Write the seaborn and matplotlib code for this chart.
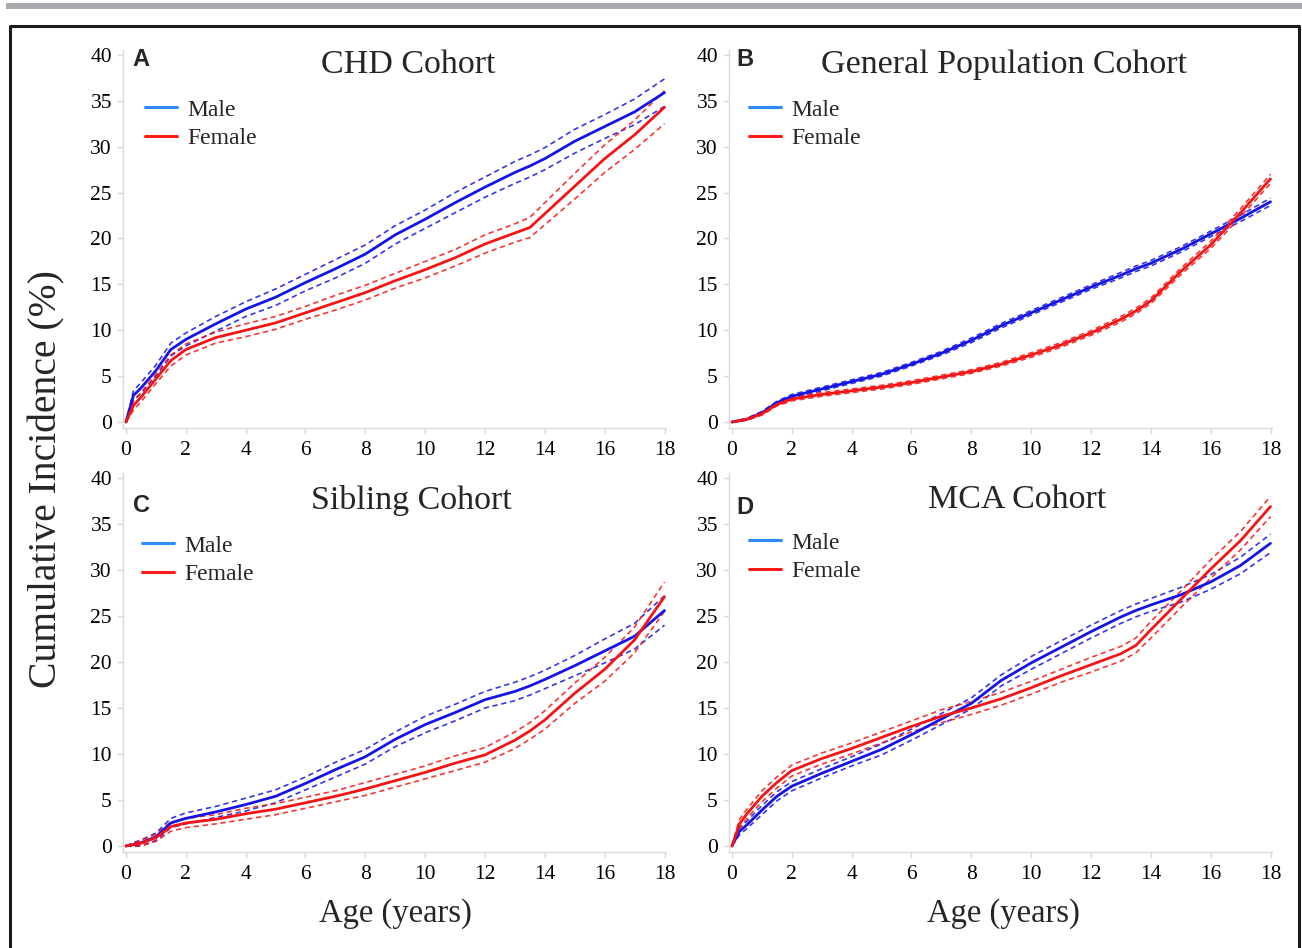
import numpy as np
import pandas as pd
import matplotlib
matplotlib.use("Agg")
import matplotlib.pyplot as plt
import seaborn as sns
from matplotlib.lines import Line2D
from matplotlib.patches import Rectangle

# ---------------- data ----------------
ages = [0, 0.25, 0.5, 1, 1.5, 2, 3, 4, 5, 6, 7, 8, 9, 10, 11, 12, 13, 13.5, 14, 15, 16, 17, 18]

chd_male = [0, 2.9, 3.7, 5.6, 7.9, 9.0, 10.7, 12.3, 13.6, 15.2, 16.7, 18.3, 20.4, 22.1, 23.9, 25.6, 27.2, 27.9, 28.7, 30.6, 32.2, 33.8, 35.9]
chd_male_ci = [0, 0.5, 0.6, 0.6, 0.7, 0.7, 0.8, 0.8, 0.9, 0.9, 1.0, 1.0, 1.0, 1.0, 1.1, 1.1, 1.2, 1.2, 1.2, 1.3, 1.3, 1.4, 1.5]
chd_female = [0, 1.8, 2.7, 4.7, 6.7, 7.9, 9.2, 10.0, 10.8, 11.9, 13.0, 14.1, 15.4, 16.6, 17.9, 19.4, 20.6, 21.2, 22.7, 25.7, 28.7, 31.3, 34.3]
chd_female_ci = [0, 0.5, 0.5, 0.5, 0.6, 0.6, 0.6, 0.7, 0.7, 0.7, 0.8, 0.8, 0.8, 0.9, 0.9, 1.0, 1.0, 1.1, 1.2, 1.4, 1.5, 1.6, 1.8]

gen_male = [0, 0.15, 0.3, 1.0, 2.1, 2.8, 3.6, 4.4, 5.2, 6.3, 7.5, 8.9, 10.5, 11.9, 13.3, 14.7, 16.0, 16.7, 17.3, 18.8, 20.5, 22.2, 24.0]
gen_male_ci = [0, 0.05, 0.1, 0.15, 0.15, 0.2, 0.2, 0.2, 0.2, 0.2, 0.2, 0.25, 0.25, 0.25, 0.25, 0.25, 0.3, 0.3, 0.3, 0.3, 0.3, 0.35, 0.4]
gen_female = [0, 0.15, 0.3, 0.9, 1.9, 2.5, 3.0, 3.4, 3.8, 4.3, 4.9, 5.5, 6.3, 7.3, 8.4, 9.7, 11.2, 12.1, 13.2, 16.4, 19.3, 22.8, 26.5]
gen_female_ci = [0, 0.05, 0.1, 0.15, 0.15, 0.2, 0.2, 0.2, 0.2, 0.2, 0.2, 0.2, 0.2, 0.25, 0.25, 0.25, 0.3, 0.3, 0.3, 0.35, 0.4, 0.45, 0.5]

sib_male = [0, 0.15, 0.35, 1.0, 2.5, 3.0, 3.7, 4.5, 5.4, 6.8, 8.3, 9.7, 11.6, 13.2, 14.5, 15.9, 16.8, 17.4, 18.1, 19.6, 21.2, 22.8, 25.6]
sib_male_ci = [0, 0.2, 0.3, 0.4, 0.5, 0.6, 0.6, 0.7, 0.7, 0.7, 0.8, 0.8, 0.8, 0.9, 0.9, 0.9, 1.0, 1.0, 1.0, 1.1, 1.3, 1.4, 1.6]
sib_female = [0, 0.15, 0.3, 0.9, 2.1, 2.5, 2.9, 3.5, 4.0, 4.7, 5.4, 6.2, 7.1, 8.0, 9.0, 9.9, 11.5, 12.5, 13.7, 16.6, 19.2, 22.4, 27.1]
sib_female_ci = [0, 0.2, 0.3, 0.4, 0.5, 0.5, 0.5, 0.6, 0.6, 0.6, 0.6, 0.7, 0.7, 0.7, 0.8, 0.8, 0.9, 0.9, 1.0, 1.1, 1.3, 1.4, 1.6]

mca_male = [0, 1.6, 2.3, 3.9, 5.4, 6.5, 7.9, 9.2, 10.5, 12.1, 13.8, 15.5, 18.0, 19.9, 21.6, 23.3, 24.9, 25.6, 26.2, 27.3, 28.7, 30.5, 32.9]
mca_male_ci = [0, 0.4, 0.4, 0.5, 0.5, 0.5, 0.5, 0.5, 0.6, 0.6, 0.6, 0.6, 0.6, 0.7, 0.7, 0.7, 0.7, 0.7, 0.7, 0.8, 0.8, 0.9, 1.0]
mca_female = [0, 2.4, 3.5, 5.4, 6.9, 8.2, 9.5, 10.6, 11.8, 13.0, 14.1, 15.0, 16.0, 17.2, 18.5, 19.7, 20.9, 21.8, 23.5, 26.8, 30.1, 33.2, 36.9]
mca_female_ci = [0, 0.5, 0.5, 0.6, 0.6, 0.6, 0.6, 0.6, 0.6, 0.6, 0.7, 0.7, 0.7, 0.7, 0.7, 0.8, 0.8, 0.8, 0.9, 0.9, 1.0, 1.0, 1.1]

panel_titles = ["CHD Cohort", "General Population Cohort", "Sibling Cohort", "MCA Cohort"]
panel_letters = ["A", "B", "C", "D"]
series_labels = ["Male", "Female"]
x_ticks = [0, 2, 4, 6, 8, 10, 12, 14, 16, 18]
y_ticks = [0, 5, 10, 15, 20, 25, 30, 35, 40]
y_label = "Cumulative Incidence (%)"
x_label = "Age (years)"

panels = [
    (chd_male, chd_male_ci, chd_female, chd_female_ci),
    (gen_male, gen_male_ci, gen_female, gen_female_ci),
    (sib_male, sib_male_ci, sib_female, sib_female_ci),
    (mca_male, mca_male_ci, mca_female, mca_female_ci),
]

# ---------------- styling ----------------
sns.set_theme(style="white")
plt.rcParams['font.family'] = ['Liberation Serif', 'DejaVu Serif']

W, H = 1302, 948
fig = plt.figure(figsize=(W / 100, H / 100), dpi=100)

def fx(px):
    return px / W

def fy(py):
    return 1 - py / H

# axes boxes in pixels: left, top, right, bottom
boxes = [
    (123, 50.4, 666, 427.5),
    (729, 50.4, 1272, 427.5),
    (123, 473.4, 666, 851.5),
    (729, 473.4, 1272, 851.5),
]
title_pos = [(408, 65), (1004, 65), (411, 500), (1017, 500)]
letter_pos = [(141, 59), (745, 59), (141, 505), (745, 507)]
legend_pos = [(145, 99), (749, 99), (142, 535), (749, 532)]

male_col = "#1414E6"
female_col = "#F51414"
male_leg = "#2E8BFF"
female_leg = "#FF1A1A"
spine_col = "#DADADA"

for i, (box, data) in enumerate(zip(boxes, panels)):
    l, t, r, b = box
    ax = fig.add_axes([fx(l), fy(b), fx(r - l), (b - t) / H])
    m, mci, f, fci = [np.asarray(d, dtype=float) for d in data]
    a = np.asarray(ages, dtype=float)
    for vals, ci, col in [(m, mci, male_col), (f, fci, female_col)]:
        for bound in (vals + ci, vals - ci):
            sns.lineplot(x=a, y=bound, ax=ax, color=col, lw=1.2,
                         dashes=False, alpha=0.85, zorder=2).lines[-1].set_dashes((3.2, 2.2))
        sns.lineplot(x=a, y=vals, ax=ax, color=col, lw=2.0, zorder=3)
    ax.set_xlim(-0.1, 18.05)
    ax.set_ylim(-0.6, 40.5)
    ax.set_xticks(x_ticks)
    ax.set_yticks(y_ticks)
    ax.set_xticklabels([str(v) for v in x_ticks], fontsize=15.5)
    ax.set_yticklabels([str(v) for v in y_ticks], fontsize=15.5)
    ax.set_xlabel("")
    ax.set_ylabel("")
    for s in ["top", "right"]:
        ax.spines[s].set_visible(False)
    for s in ["left", "bottom"]:
        ax.spines[s].set_color(spine_col)
        ax.spines[s].set_linewidth(1.0)
    ax.tick_params(axis="both", which="major", length=4, width=1, color=spine_col,
                   labelcolor="black", direction="out", bottom=True, left=True)
    ax.tick_params(axis="x", pad=6)
    ax.tick_params(axis="y", pad=4)
    ax.grid(False)

    handles = [Line2D([0], [0], color=male_leg, lw=2.2),
               Line2D([0], [0], color=female_leg, lw=2.2)]
    lx, ly = legend_pos[i]
    ax.legend(handles, series_labels, loc="upper left",
              bbox_to_anchor=(fx(lx), fy(ly)), bbox_transform=fig.transFigure,
              frameon=False, fontsize=17, handlelength=1.35, handletextpad=0.45,
              labelspacing=0.3, borderaxespad=0, borderpad=0)

    tx, ty = title_pos[i]
    fig.text(fx(tx), fy(ty), panel_titles[i], ha="center", va="center", fontsize=24.5)
    px_, py_ = letter_pos[i]
    fig.text(fx(px_), fy(py_), panel_letters[i], ha="center", va="center",
             fontsize=17, fontweight="bold", family=["Liberation Sans", "DejaVu Sans"])

fig.text(fx(47), fy(479), y_label, rotation=90, ha="center", va="center", fontsize=28.5)
fig.text(fx(395), fy(914), x_label, ha="center", va="center", fontsize=23.5)
fig.text(fx(1003), fy(914), x_label, ha="center", va="center", fontsize=23.5)

# decorations: grey bar and border frame
fig.patches.append(Rectangle((fx(6), fy(9)), fx(1296), 6 / H, transform=fig.transFigure,
                             facecolor="#A9A9AE", edgecolor="none"))
fig.lines.append(Line2D([fx(10), fx(10), fx(1299), fx(1299)], [fy(948), fy(25.5), fy(25.5), fy(948)],
                        transform=fig.transFigure, color="#1a1a1a", lw=2.2))

fig.savefig("out.png", dpi=100)
